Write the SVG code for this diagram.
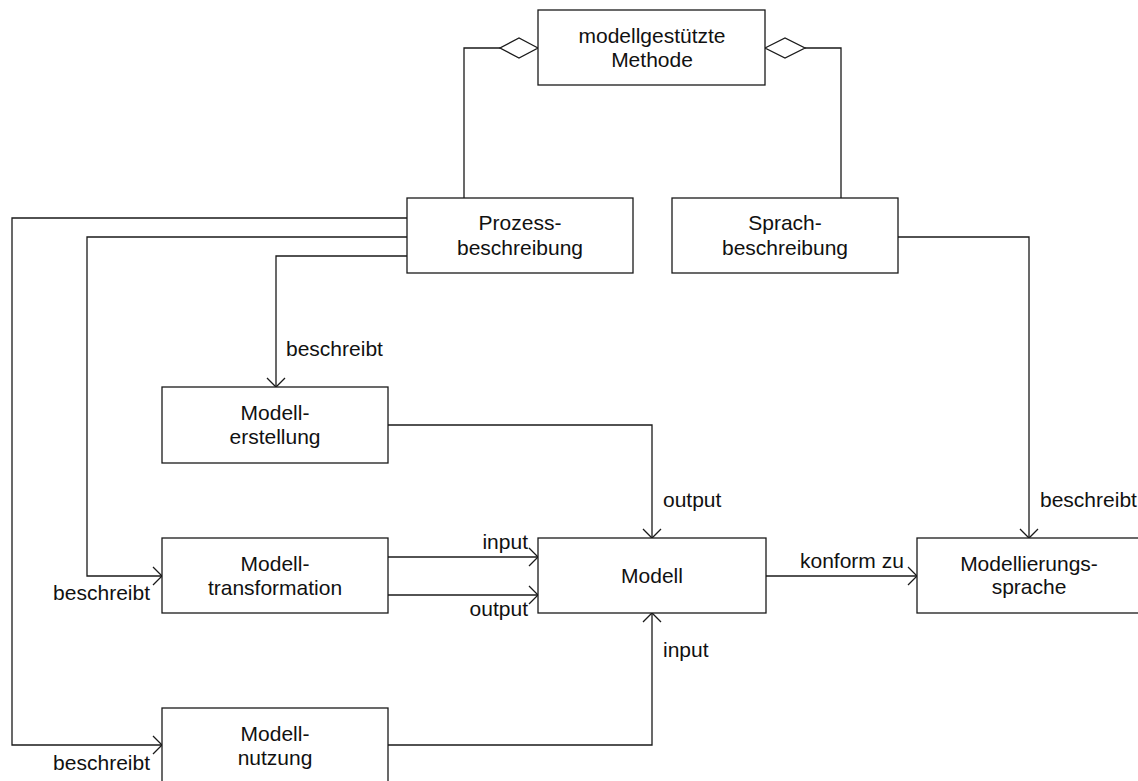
<svg xmlns="http://www.w3.org/2000/svg" width="1138" height="781" viewBox="0 0 1138 781">
  <style>
    .box { fill: #fff; stroke: #1a1a1a; stroke-width: 1.3; }
    .edge { fill: none; stroke: #1a1a1a; stroke-width: 1.3; }
    .agg { fill: #fff; stroke: #1a1a1a; stroke-width: 1.3; }
    text { font-family: "Liberation Sans", Arial, Helvetica, sans-serif; font-size: 21px; fill: #111; }
    .c { text-anchor: middle; }
    .r { text-anchor: end; }
  </style>
  <defs>
    <marker id="open" markerUnits="userSpaceOnUse" markerWidth="20" markerHeight="20" refX="0" refY="0" viewBox="-11 -10 12 20" orient="auto" overflow="visible">
      <path d="M-9,-9 L0,0 L-9,9" fill="none" stroke="#1a1a1a" stroke-width="1.3"/>
    </marker>
  </defs>

  <!-- connectors -->
  <g id="connectors">
    <!-- aggregation: method consists of process and language description -->
    <polyline class="edge" points="500,48 464,48 464,198"/>
    <polygon class="agg" points="538,48 519,38 500,48 519,58"/>
    <polyline class="edge" points="805,48 841,48 841,198"/>
    <polygon class="agg" points="765,48 785,38 805,48 785,58"/>

    <!-- process description describes the three activities -->
    <polyline class="edge" points="407,218 12,218 12,745 162,745" marker-end="url(#open)"/>
    <polyline class="edge" points="407,237 87,237 87,576 162,576" marker-end="url(#open)"/>
    <polyline class="edge" points="407,256 276,256 276,387" marker-end="url(#open)"/>

    <!-- language description describes modelling language -->
    <polyline class="edge" points="898,237 1029,237 1029,538" marker-end="url(#open)"/>

    <!-- model flows -->
    <polyline class="edge" points="388,425 652,425 652,538" marker-end="url(#open)"/>
    <line class="edge" x1="388" y1="557" x2="538" y2="557" marker-end="url(#open)"/>
    <line class="edge" x1="388" y1="595" x2="538" y2="595" marker-end="url(#open)"/>
    <line class="edge" x1="766" y1="576" x2="917" y2="576" marker-end="url(#open)"/>
    <polyline class="edge" points="388,745 652,745 652,613" marker-end="url(#open)"/>

    <!-- connector labels -->
    <text x="286" y="356">beschreibt</text>
    <text x="663" y="507">output</text>
    <text x="663" y="657">input</text>
    <text x="1040" y="507">beschreibt</text>
    <text class="r" x="528" y="549">input</text>
    <text class="r" x="528" y="616">output</text>
    <text x="800" y="568">konform zu</text>
    <text class="r" x="150" y="600">beschreibt</text>
    <text class="r" x="150" y="770">beschreibt</text>
  </g>

  <!-- nodes -->
  <g id="methode">
    <rect class="box" x="538" y="10" width="227" height="75"/>
    <text class="c" x="652" y="43">modellgestützte</text>
    <text class="c" x="652" y="67">Methode</text>
  </g>

  <g id="prozessbeschreibung">
    <rect class="box" x="407" y="198" width="226" height="75"/>
    <text class="c" x="520" y="230">Prozess-</text>
    <text class="c" x="520" y="255">beschreibung</text>
  </g>

  <g id="sprachbeschreibung">
    <rect class="box" x="672" y="198" width="226" height="75"/>
    <text class="c" x="785" y="230">Sprach-</text>
    <text class="c" x="785" y="255">beschreibung</text>
  </g>

  <g id="modellerstellung">
    <rect class="box" x="162" y="387" width="226" height="76"/>
    <text class="c" x="275" y="420">Modell-</text>
    <text class="c" x="275" y="444">erstellung</text>
  </g>

  <g id="modelltransformation">
    <rect class="box" x="162" y="538" width="226" height="75"/>
    <text class="c" x="275" y="571">Modell-</text>
    <text class="c" x="275" y="595">transformation</text>
  </g>

  <g id="modell">
    <rect class="box" x="538" y="538" width="228" height="75"/>
    <text class="c" x="652" y="583">Modell</text>
  </g>

  <g id="modellierungssprache">
    <rect class="box" x="917" y="538" width="226" height="75"/>
    <text class="c" x="1029" y="571">Modellierungs-</text>
    <text class="c" x="1029" y="594">sprache</text>
  </g>

  <g id="modellnutzung">
    <rect class="box" x="162" y="708" width="226" height="76"/>
    <text class="c" x="275" y="741">Modell-</text>
    <text class="c" x="275" y="765">nutzung</text>
  </g>
</svg>
